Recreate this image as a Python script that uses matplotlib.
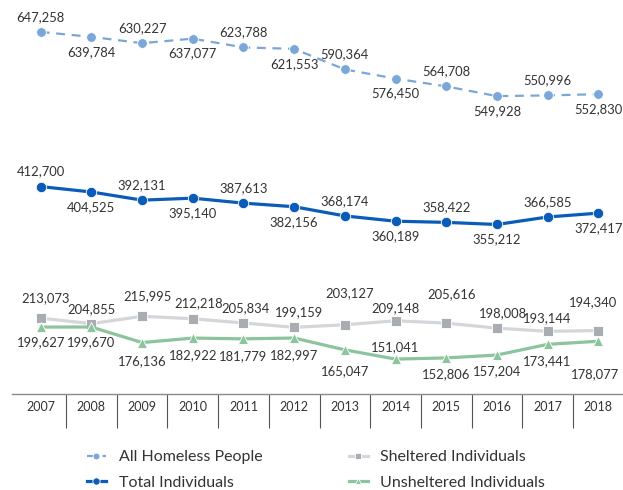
import matplotlib
import matplotlib.pyplot as plt
from matplotlib.transforms import blended_transform_factory

matplotlib.use("Agg")

YEARS = list(range(2007, 2019))
ALL_HOMELESS = [647258, 639784, 630227, 637077, 623788, 621553,
                590364, 576450, 564708, 549928, 550996, 552830]
TOTAL_INDIVIDUALS = [412700, 404525, 392131, 395140, 387613, 382156,
                     368174, 360189, 358422, 355212, 366585, 372417]
SHELTERED = [213073, 204855, 215995, 212218, 205834, 199159,
             203127, 209148, 205616, 198008, 193144, 194340]
UNSHELTERED = [199627, 199670, 176136, 182922, 181779, 182997,
               165047, 151041, 152806, 157204, 173441, 178077]

TEXT = "#333333"
FONT = ["Lato", "DejaVu Sans"]
plt.rcParams["font.family"] = FONT

# label offsets in pixels (dx, dy), positive dy = up
alt = [(0, 15) if i % 2 == 0 else (0, -15) for i in range(12)]
shel_off = [(5, 20), (0, 14), (5, 20), (6, 16), (2, 15), (5, 15),
            (5, 32), (0, 13), (5, 29), (6, 15), (0, 13), (-5, 28)]
unsh_off = [(0, -15), (0, -15), (0, -19), (0, -17), (0, -17), (0, -17),
            (0, -21), (0, 12), (0, -16), (0, -16), (0, -17), (-3, -33)]

fig = plt.figure(figsize=(6.23, 4.90), dpi=100)
ax = fig.add_axes([12 / 623, 96 / 490, 611 / 623, 394 / 490])
ax.set_xlim(2006.434, 2018.487)
ax.set_ylim(98100, 695700)
for s in ["top", "left", "right"]:
    ax.spines[s].set_visible(False)
ax.spines["bottom"].set_color("#8a8a8a")
ax.spines["bottom"].set_linewidth(1)
ax.set_xticks([])
ax.set_yticks([])

h1, = ax.plot(YEARS, ALL_HOMELESS, color="#7ba6d8", lw=1.6, ls=(0, (4, 3)),
              marker="o", ms=7, mec="white", mew=0.6, label="All Homeless People")
h2, = ax.plot(YEARS, TOTAL_INDIVIDUALS, color="#0b5cb8", lw=2.3,
              marker="o", ms=7.5, mec="white", mew=0.6, label="Total Individuals")
h3, = ax.plot(YEARS, SHELTERED, color="#d4d6d9", lw=2.3,
              marker="s", ms=7, mfc="#a9acb1", mec="white", mew=0.6,
              label="Sheltered Individuals")
h4, = ax.plot(YEARS, UNSHELTERED, color="#8cc49e", lw=2.3,
              marker="^", ms=7, mfc="#8cc49e", mec="white", mew=0.6,
              label="Unsheltered Individuals")


def label_series(values, offsets):
    for x, v, (dx, dy) in zip(YEARS, values, offsets):
        ax.annotate(f"{v:,}", (x, v), xytext=(dx * 0.72, dy * 0.72),
                    textcoords="offset points", ha="center", va="center",
                    fontsize=9.4, color=TEXT)


label_series(ALL_HOMELESS, alt)
label_series(TOTAL_INDIVIDUALS, alt)
label_series(SHELTERED, shel_off)
label_series(UNSHELTERED, unsh_off)

# year row below the axis
trans = blended_transform_factory(ax.transData, ax.transAxes)
row_h = 34 / 394
for y in YEARS:
    ax.text(y, -13 / 394, str(y), transform=trans, ha="center", va="center",
            fontsize=9, color=TEXT, clip_on=False)
ax.vlines([y + 0.5 for y in YEARS[:-1]], -row_h, 0, transform=trans,
          colors="#555555", lw=0.8, clip_on=False)

leg = fig.legend(handles=[h1, h2, h3, h4], ncol=2, loc="center",
                 bbox_to_anchor=(316 / 623, 1 - 470 / 490), frameon=False,
                 fontsize=11.5, handlelength=1.2, handletextpad=0.8,
                 columnspacing=5.4, labelspacing=0.7, markerscale=0.7)
for t in leg.get_texts():
    t.set_color(TEXT)

fig.savefig("out.png", dpi=100)
